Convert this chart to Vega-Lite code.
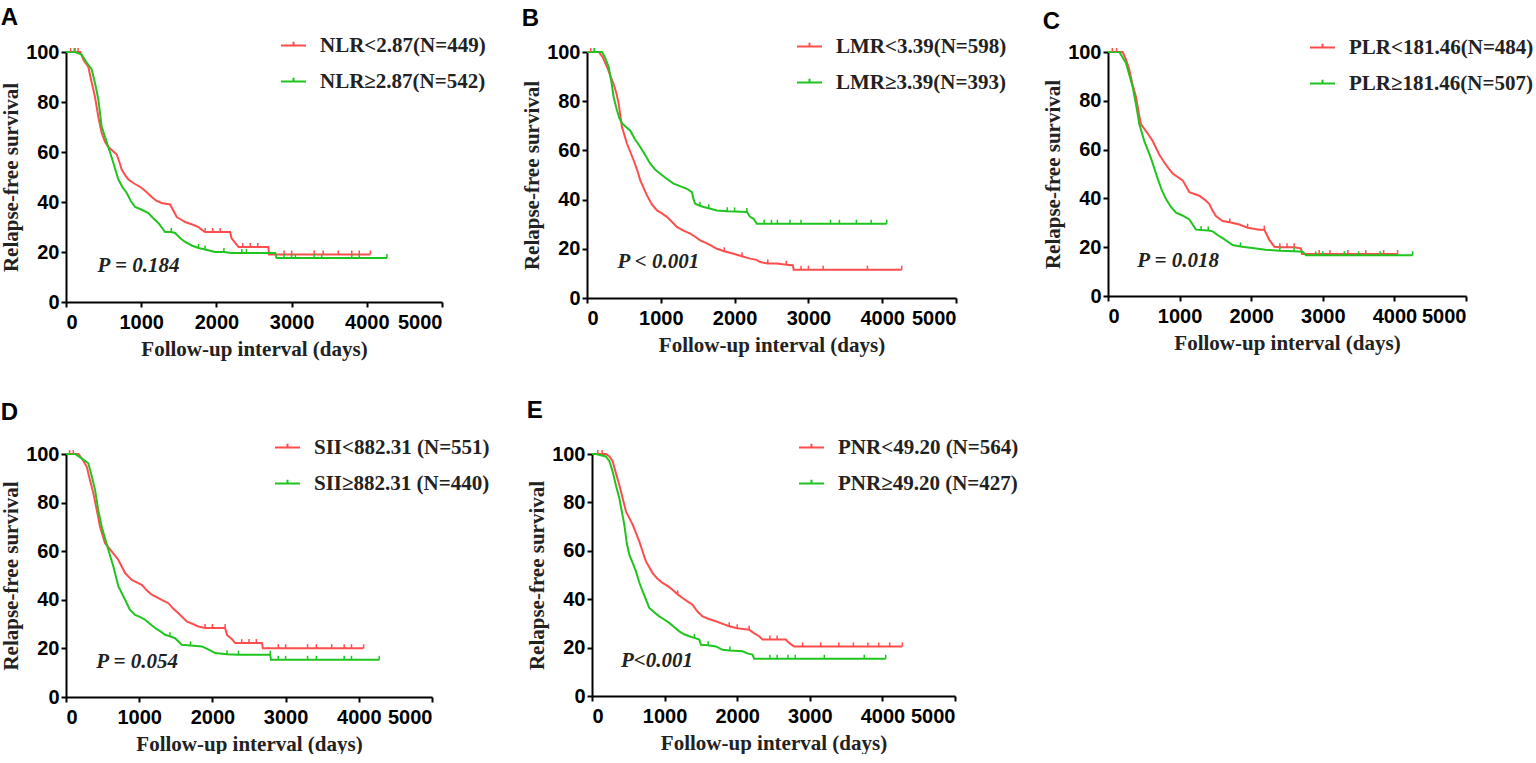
{
  "$schema": "https://vega.github.io/schema/vega-lite/v6.json",
  "padding": {"left": 0, "top": 6, "right": 0, "bottom": 0},
  "background": "white",
  "datasets": {
    "km": [
      {"p":"A","g":"NLR<2.87(N=449)","t":0,"s":100,"c":0},
      {"p":"A","g":"NLR<2.87(N=449)","t":60,"s":100,"c":1},
      {"p":"A","g":"NLR<2.87(N=449)","t":110,"s":100,"c":1},
      {"p":"A","g":"NLR<2.87(N=449)","t":160,"s":100,"c":1},
      {"p":"A","g":"NLR<2.87(N=449)","t":190,"s":100,"c":0},
      {"p":"A","g":"NLR<2.87(N=449)","t":230,"s":97,"c":0},
      {"p":"A","g":"NLR<2.87(N=449)","t":297,"s":94,"c":0},
      {"p":"A","g":"NLR<2.87(N=449)","t":340,"s":88,"c":0},
      {"p":"A","g":"NLR<2.87(N=449)","t":386,"s":82,"c":0},
      {"p":"A","g":"NLR<2.87(N=449)","t":430,"s":74,"c":0},
      {"p":"A","g":"NLR<2.87(N=449)","t":475,"s":67.6,"c":0},
      {"p":"A","g":"NLR<2.87(N=449)","t":520,"s":64,"c":0},
      {"p":"A","g":"NLR<2.87(N=449)","t":563,"s":62,"c":0},
      {"p":"A","g":"NLR<2.87(N=449)","t":620,"s":60.5,"c":0},
      {"p":"A","g":"NLR<2.87(N=449)","t":674,"s":59,"c":0},
      {"p":"A","g":"NLR<2.87(N=449)","t":710,"s":56,"c":0},
      {"p":"A","g":"NLR<2.87(N=449)","t":741,"s":53,"c":0},
      {"p":"A","g":"NLR<2.87(N=449)","t":790,"s":50.5,"c":0},
      {"p":"A","g":"NLR<2.87(N=449)","t":830,"s":49,"c":0},
      {"p":"A","g":"NLR<2.87(N=449)","t":900,"s":47.5,"c":0},
      {"p":"A","g":"NLR<2.87(N=449)","t":960,"s":46.5,"c":0},
      {"p":"A","g":"NLR<2.87(N=449)","t":1007,"s":45.6,"c":0},
      {"p":"A","g":"NLR<2.87(N=449)","t":1070,"s":44,"c":0},
      {"p":"A","g":"NLR<2.87(N=449)","t":1140,"s":42,"c":0},
      {"p":"A","g":"NLR<2.87(N=449)","t":1200,"s":40.5,"c":0},
      {"p":"A","g":"NLR<2.87(N=449)","t":1273,"s":39.6,"c":0},
      {"p":"A","g":"NLR<2.87(N=449)","t":1384,"s":39,"c":0},
      {"p":"A","g":"NLR<2.87(N=449)","t":1420,"s":37,"c":0},
      {"p":"A","g":"NLR<2.87(N=449)","t":1473,"s":34,"c":0},
      {"p":"A","g":"NLR<2.87(N=449)","t":1530,"s":33,"c":0},
      {"p":"A","g":"NLR<2.87(N=449)","t":1584,"s":32,"c":0},
      {"p":"A","g":"NLR<2.87(N=449)","t":1680,"s":31,"c":0},
      {"p":"A","g":"NLR<2.87(N=449)","t":1762,"s":30,"c":0},
      {"p":"A","g":"NLR<2.87(N=449)","t":1800,"s":29,"c":0},
      {"p":"A","g":"NLR<2.87(N=449)","t":1850,"s":28,"c":1},
      {"p":"A","g":"NLR<2.87(N=449)","t":1950,"s":28,"c":1},
      {"p":"A","g":"NLR<2.87(N=449)","t":2050,"s":28,"c":1},
      {"p":"A","g":"NLR<2.87(N=449)","t":2183,"s":28,"c":0},
      {"p":"A","g":"NLR<2.87(N=449)","t":2200,"s":25.6,"c":0},
      {"p":"A","g":"NLR<2.87(N=449)","t":2294,"s":22,"c":0},
      {"p":"A","g":"NLR<2.87(N=449)","t":2350,"s":22,"c":1},
      {"p":"A","g":"NLR<2.87(N=449)","t":2450,"s":22,"c":1},
      {"p":"A","g":"NLR<2.87(N=449)","t":2550,"s":22,"c":1},
      {"p":"A","g":"NLR<2.87(N=449)","t":2690,"s":22,"c":0},
      {"p":"A","g":"NLR<2.87(N=449)","t":2700,"s":19,"c":0},
      {"p":"A","g":"NLR<2.87(N=449)","t":2900,"s":19,"c":1},
      {"p":"A","g":"NLR<2.87(N=449)","t":3000,"s":19,"c":1},
      {"p":"A","g":"NLR<2.87(N=449)","t":3300,"s":19,"c":1},
      {"p":"A","g":"NLR<2.87(N=449)","t":3420,"s":19,"c":1},
      {"p":"A","g":"NLR<2.87(N=449)","t":3620,"s":19,"c":1},
      {"p":"A","g":"NLR<2.87(N=449)","t":3800,"s":19,"c":1},
      {"p":"A","g":"NLR<2.87(N=449)","t":3900,"s":19,"c":1},
      {"p":"A","g":"NLR<2.87(N=449)","t":4047,"s":19,"c":1},

      {"p":"A","g":"NLR≥2.87(N=542)","t":0,"s":100,"c":0},
      {"p":"A","g":"NLR≥2.87(N=542)","t":75,"s":100,"c":0},
      {"p":"A","g":"NLR≥2.87(N=542)","t":120,"s":100,"c":1},
      {"p":"A","g":"NLR≥2.87(N=542)","t":208,"s":99,"c":0},
      {"p":"A","g":"NLR≥2.87(N=542)","t":270,"s":96,"c":0},
      {"p":"A","g":"NLR≥2.87(N=542)","t":342,"s":93,"c":0},
      {"p":"A","g":"NLR≥2.87(N=542)","t":390,"s":87,"c":0},
      {"p":"A","g":"NLR≥2.87(N=542)","t":430,"s":81,"c":0},
      {"p":"A","g":"NLR≥2.87(N=542)","t":475,"s":70,"c":0},
      {"p":"A","g":"NLR≥2.87(N=542)","t":520,"s":66,"c":0},
      {"p":"A","g":"NLR≥2.87(N=542)","t":563,"s":62,"c":0},
      {"p":"A","g":"NLR≥2.87(N=542)","t":600,"s":58.5,"c":0},
      {"p":"A","g":"NLR≥2.87(N=542)","t":630,"s":55.6,"c":0},
      {"p":"A","g":"NLR≥2.87(N=542)","t":697,"s":49,"c":0},
      {"p":"A","g":"NLR≥2.87(N=542)","t":750,"s":46,"c":0},
      {"p":"A","g":"NLR≥2.87(N=542)","t":808,"s":43.6,"c":0},
      {"p":"A","g":"NLR≥2.87(N=542)","t":860,"s":40.5,"c":0},
      {"p":"A","g":"NLR≥2.87(N=542)","t":918,"s":38,"c":0},
      {"p":"A","g":"NLR≥2.87(N=542)","t":1000,"s":37,"c":0},
      {"p":"A","g":"NLR≥2.87(N=542)","t":1096,"s":35.6,"c":0},
      {"p":"A","g":"NLR≥2.87(N=542)","t":1160,"s":33.5,"c":0},
      {"p":"A","g":"NLR≥2.87(N=542)","t":1229,"s":31.6,"c":0},
      {"p":"A","g":"NLR≥2.87(N=542)","t":1280,"s":29.5,"c":0},
      {"p":"A","g":"NLR≥2.87(N=542)","t":1318,"s":28,"c":0},
      {"p":"A","g":"NLR≥2.87(N=542)","t":1400,"s":28,"c":1},
      {"p":"A","g":"NLR≥2.87(N=542)","t":1451,"s":27.6,"c":0},
      {"p":"A","g":"NLR≥2.87(N=542)","t":1520,"s":25.5,"c":0},
      {"p":"A","g":"NLR≥2.87(N=542)","t":1584,"s":24,"c":0},
      {"p":"A","g":"NLR≥2.87(N=542)","t":1680,"s":22.5,"c":0},
      {"p":"A","g":"NLR≥2.87(N=542)","t":1762,"s":21.6,"c":1},
      {"p":"A","g":"NLR≥2.87(N=542)","t":1850,"s":21,"c":1},
      {"p":"A","g":"NLR≥2.87(N=542)","t":1983,"s":20,"c":0},
      {"p":"A","g":"NLR≥2.87(N=542)","t":2100,"s":20,"c":1},
      {"p":"A","g":"NLR≥2.87(N=542)","t":2200,"s":19.6,"c":0},
      {"p":"A","g":"NLR≥2.87(N=542)","t":2338,"s":19.6,"c":1},
      {"p":"A","g":"NLR≥2.87(N=542)","t":2400,"s":19.6,"c":1},
      {"p":"A","g":"NLR≥2.87(N=542)","t":2782,"s":19.6,"c":0},
      {"p":"A","g":"NLR≥2.87(N=542)","t":2800,"s":17.6,"c":0},
      {"p":"A","g":"NLR≥2.87(N=542)","t":2900,"s":17.6,"c":1},
      {"p":"A","g":"NLR≥2.87(N=542)","t":3000,"s":17.6,"c":1},
      {"p":"A","g":"NLR≥2.87(N=542)","t":3050,"s":17.6,"c":1},
      {"p":"A","g":"NLR≥2.87(N=542)","t":3300,"s":17.6,"c":1},
      {"p":"A","g":"NLR≥2.87(N=542)","t":3400,"s":17.6,"c":1},
      {"p":"A","g":"NLR≥2.87(N=542)","t":3800,"s":17.6,"c":1},
      {"p":"A","g":"NLR≥2.87(N=542)","t":3900,"s":17.6,"c":1},
      {"p":"A","g":"NLR≥2.87(N=542)","t":4268,"s":17.6,"c":1},

      {"p":"B","g":"LMR<3.39(N=598)","t":0,"s":100,"c":0},
      {"p":"B","g":"LMR<3.39(N=598)","t":50,"s":100,"c":1},
      {"p":"B","g":"LMR<3.39(N=598)","t":100,"s":100,"c":1},
      {"p":"B","g":"LMR<3.39(N=598)","t":158,"s":100,"c":0},
      {"p":"B","g":"LMR<3.39(N=598)","t":210,"s":98,"c":0},
      {"p":"B","g":"LMR<3.39(N=598)","t":271,"s":94,"c":0},
      {"p":"B","g":"LMR<3.39(N=598)","t":320,"s":90,"c":0},
      {"p":"B","g":"LMR<3.39(N=598)","t":361,"s":87,"c":0},
      {"p":"B","g":"LMR<3.39(N=598)","t":400,"s":83,"c":0},
      {"p":"B","g":"LMR<3.39(N=598)","t":429,"s":79,"c":0},
      {"p":"B","g":"LMR<3.39(N=598)","t":474,"s":69.5,"c":0},
      {"p":"B","g":"LMR<3.39(N=598)","t":542,"s":62.7,"c":0},
      {"p":"B","g":"LMR<3.39(N=598)","t":632,"s":56,"c":0},
      {"p":"B","g":"LMR<3.39(N=598)","t":680,"s":52,"c":0},
      {"p":"B","g":"LMR<3.39(N=598)","t":722,"s":47.8,"c":0},
      {"p":"B","g":"LMR<3.39(N=598)","t":812,"s":41.7,"c":0},
      {"p":"B","g":"LMR<3.39(N=598)","t":880,"s":38,"c":0},
      {"p":"B","g":"LMR<3.39(N=598)","t":948,"s":35.6,"c":0},
      {"p":"B","g":"LMR<3.39(N=598)","t":1010,"s":34.5,"c":0},
      {"p":"B","g":"LMR<3.39(N=598)","t":1083,"s":33,"c":0},
      {"p":"B","g":"LMR<3.39(N=598)","t":1150,"s":31,"c":0},
      {"p":"B","g":"LMR<3.39(N=598)","t":1218,"s":28.9,"c":0},
      {"p":"B","g":"LMR<3.39(N=598)","t":1300,"s":27.5,"c":0},
      {"p":"B","g":"LMR<3.39(N=598)","t":1399,"s":26.2,"c":0},
      {"p":"B","g":"LMR<3.39(N=598)","t":1460,"s":25,"c":0},
      {"p":"B","g":"LMR<3.39(N=598)","t":1534,"s":23.4,"c":0},
      {"p":"B","g":"LMR<3.39(N=598)","t":1640,"s":22,"c":0},
      {"p":"B","g":"LMR<3.39(N=598)","t":1760,"s":20,"c":0},
      {"p":"B","g":"LMR<3.39(N=598)","t":1860,"s":19,"c":1},
      {"p":"B","g":"LMR<3.39(N=598)","t":1986,"s":18,"c":0},
      {"p":"B","g":"LMR<3.39(N=598)","t":2100,"s":17,"c":1},
      {"p":"B","g":"LMR<3.39(N=598)","t":2211,"s":16,"c":0},
      {"p":"B","g":"LMR<3.39(N=598)","t":2300,"s":15.5,"c":0},
      {"p":"B","g":"LMR<3.39(N=598)","t":2347,"s":14.6,"c":0},
      {"p":"B","g":"LMR<3.39(N=598)","t":2450,"s":14,"c":1},
      {"p":"B","g":"LMR<3.39(N=598)","t":2572,"s":14,"c":0},
      {"p":"B","g":"LMR<3.39(N=598)","t":2700,"s":13.5,"c":1},
      {"p":"B","g":"LMR<3.39(N=598)","t":2789,"s":13.3,"c":0},
      {"p":"B","g":"LMR<3.39(N=598)","t":2800,"s":11.5,"c":0},
      {"p":"B","g":"LMR<3.39(N=598)","t":2900,"s":11.5,"c":1},
      {"p":"B","g":"LMR<3.39(N=598)","t":3000,"s":11.5,"c":1},
      {"p":"B","g":"LMR<3.39(N=598)","t":3200,"s":11.5,"c":1},
      {"p":"B","g":"LMR<3.39(N=598)","t":3800,"s":11.5,"c":1},
      {"p":"B","g":"LMR<3.39(N=598)","t":4265,"s":11.5,"c":1},

      {"p":"B","g":"LMR≥3.39(N=393)","t":0,"s":100,"c":0},
      {"p":"B","g":"LMR≥3.39(N=393)","t":100,"s":100,"c":1},
      {"p":"B","g":"LMR≥3.39(N=393)","t":203,"s":100,"c":0},
      {"p":"B","g":"LMR≥3.39(N=393)","t":240,"s":98,"c":0},
      {"p":"B","g":"LMR≥3.39(N=393)","t":293,"s":94,"c":0},
      {"p":"B","g":"LMR≥3.39(N=393)","t":330,"s":88,"c":0},
      {"p":"B","g":"LMR≥3.39(N=393)","t":361,"s":81.6,"c":0},
      {"p":"B","g":"LMR≥3.39(N=393)","t":406,"s":76.3,"c":0},
      {"p":"B","g":"LMR≥3.39(N=393)","t":440,"s":73,"c":0},
      {"p":"B","g":"LMR≥3.39(N=393)","t":474,"s":71,"c":0},
      {"p":"B","g":"LMR≥3.39(N=393)","t":530,"s":69.5,"c":0},
      {"p":"B","g":"LMR≥3.39(N=393)","t":587,"s":68,"c":0},
      {"p":"B","g":"LMR≥3.39(N=393)","t":650,"s":64.5,"c":0},
      {"p":"B","g":"LMR≥3.39(N=393)","t":722,"s":61.4,"c":0},
      {"p":"B","g":"LMR≥3.39(N=393)","t":790,"s":58,"c":0},
      {"p":"B","g":"LMR≥3.39(N=393)","t":857,"s":54.6,"c":0},
      {"p":"B","g":"LMR≥3.39(N=393)","t":930,"s":52,"c":0},
      {"p":"B","g":"LMR≥3.39(N=393)","t":993,"s":50.5,"c":0},
      {"p":"B","g":"LMR≥3.39(N=393)","t":1080,"s":48.5,"c":0},
      {"p":"B","g":"LMR≥3.39(N=393)","t":1173,"s":46.5,"c":0},
      {"p":"B","g":"LMR≥3.39(N=393)","t":1260,"s":45.5,"c":0},
      {"p":"B","g":"LMR≥3.39(N=393)","t":1354,"s":44.4,"c":0},
      {"p":"B","g":"LMR≥3.39(N=393)","t":1422,"s":43,"c":0},
      {"p":"B","g":"LMR≥3.39(N=393)","t":1445,"s":40,"c":0},
      {"p":"B","g":"LMR≥3.39(N=393)","t":1467,"s":38.3,"c":0},
      {"p":"B","g":"LMR≥3.39(N=393)","t":1530,"s":37.5,"c":1},
      {"p":"B","g":"LMR≥3.39(N=393)","t":1580,"s":37,"c":0},
      {"p":"B","g":"LMR≥3.39(N=393)","t":1650,"s":36.5,"c":1},
      {"p":"B","g":"LMR≥3.39(N=393)","t":1760,"s":35.6,"c":0},
      {"p":"B","g":"LMR≥3.39(N=393)","t":1900,"s":35.3,"c":1},
      {"p":"B","g":"LMR≥3.39(N=393)","t":2000,"s":35.2,"c":1},
      {"p":"B","g":"LMR≥3.39(N=393)","t":2166,"s":35,"c":1},
      {"p":"B","g":"LMR≥3.39(N=393)","t":2210,"s":33,"c":0},
      {"p":"B","g":"LMR≥3.39(N=393)","t":2257,"s":32.2,"c":0},
      {"p":"B","g":"LMR≥3.39(N=393)","t":2302,"s":30.2,"c":0},
      {"p":"B","g":"LMR≥3.39(N=393)","t":2400,"s":30.2,"c":1},
      {"p":"B","g":"LMR≥3.39(N=393)","t":2500,"s":30.2,"c":1},
      {"p":"B","g":"LMR≥3.39(N=393)","t":2580,"s":30.2,"c":1},
      {"p":"B","g":"LMR≥3.39(N=393)","t":2750,"s":30.2,"c":1},
      {"p":"B","g":"LMR≥3.39(N=393)","t":2900,"s":30.2,"c":1},
      {"p":"B","g":"LMR≥3.39(N=393)","t":3300,"s":30.2,"c":1},
      {"p":"B","g":"LMR≥3.39(N=393)","t":3420,"s":30.2,"c":1},
      {"p":"B","g":"LMR≥3.39(N=393)","t":3650,"s":30.2,"c":1},
      {"p":"B","g":"LMR≥3.39(N=393)","t":3850,"s":30.2,"c":1},
      {"p":"B","g":"LMR≥3.39(N=393)","t":4062,"s":30.2,"c":1},

      {"p":"C","g":"PLR<181.46(N=484)","t":0,"s":100,"c":0},
      {"p":"C","g":"PLR<181.46(N=484)","t":60,"s":100,"c":1},
      {"p":"C","g":"PLR<181.46(N=484)","t":120,"s":100,"c":1},
      {"p":"C","g":"PLR<181.46(N=484)","t":205,"s":100,"c":0},
      {"p":"C","g":"PLR<181.46(N=484)","t":250,"s":97,"c":0},
      {"p":"C","g":"PLR<181.46(N=484)","t":298,"s":92.7,"c":0},
      {"p":"C","g":"PLR<181.46(N=484)","t":340,"s":87,"c":0},
      {"p":"C","g":"PLR<181.46(N=484)","t":391,"s":81.6,"c":0},
      {"p":"C","g":"PLR<181.46(N=484)","t":430,"s":75,"c":0},
      {"p":"C","g":"PLR<181.46(N=484)","t":461,"s":70.4,"c":0},
      {"p":"C","g":"PLR<181.46(N=484)","t":531,"s":67.6,"c":0},
      {"p":"C","g":"PLR<181.46(N=484)","t":624,"s":63.5,"c":0},
      {"p":"C","g":"PLR<181.46(N=484)","t":717,"s":57.9,"c":0},
      {"p":"C","g":"PLR<181.46(N=484)","t":810,"s":53.7,"c":0},
      {"p":"C","g":"PLR<181.46(N=484)","t":903,"s":50.2,"c":0},
      {"p":"C","g":"PLR<181.46(N=484)","t":1043,"s":47.4,"c":0},
      {"p":"C","g":"PLR<181.46(N=484)","t":1090,"s":45,"c":0},
      {"p":"C","g":"PLR<181.46(N=484)","t":1136,"s":42.5,"c":0},
      {"p":"C","g":"PLR<181.46(N=484)","t":1275,"s":41.1,"c":0},
      {"p":"C","g":"PLR<181.46(N=484)","t":1350,"s":39.5,"c":0},
      {"p":"C","g":"PLR<181.46(N=484)","t":1415,"s":37.7,"c":0},
      {"p":"C","g":"PLR<181.46(N=484)","t":1460,"s":35,"c":0},
      {"p":"C","g":"PLR<181.46(N=484)","t":1508,"s":32.8,"c":0},
      {"p":"C","g":"PLR<181.46(N=484)","t":1601,"s":30.7,"c":0},
      {"p":"C","g":"PLR<181.46(N=484)","t":1700,"s":30.2,"c":1},
      {"p":"C","g":"PLR<181.46(N=484)","t":1834,"s":29.3,"c":0},
      {"p":"C","g":"PLR<181.46(N=484)","t":1950,"s":28,"c":1},
      {"p":"C","g":"PLR<181.46(N=484)","t":2113,"s":27.2,"c":0},
      {"p":"C","g":"PLR<181.46(N=484)","t":2183,"s":27.2,"c":1},
      {"p":"C","g":"PLR<181.46(N=484)","t":2220,"s":25,"c":0},
      {"p":"C","g":"PLR<181.46(N=484)","t":2253,"s":23,"c":0},
      {"p":"C","g":"PLR<181.46(N=484)","t":2323,"s":20.2,"c":0},
      {"p":"C","g":"PLR<181.46(N=484)","t":2400,"s":20,"c":1},
      {"p":"C","g":"PLR<181.46(N=484)","t":2500,"s":20,"c":1},
      {"p":"C","g":"PLR<181.46(N=484)","t":2600,"s":20,"c":1},
      {"p":"C","g":"PLR<181.46(N=484)","t":2695,"s":19.5,"c":0},
      {"p":"C","g":"PLR<181.46(N=484)","t":2710,"s":17.2,"c":0},
      {"p":"C","g":"PLR<181.46(N=484)","t":2950,"s":17.2,"c":1},
      {"p":"C","g":"PLR<181.46(N=484)","t":3100,"s":17.2,"c":1},
      {"p":"C","g":"PLR<181.46(N=484)","t":3350,"s":17.2,"c":1},
      {"p":"C","g":"PLR<181.46(N=484)","t":3600,"s":17.2,"c":1},
      {"p":"C","g":"PLR<181.46(N=484)","t":3850,"s":17.2,"c":1},
      {"p":"C","g":"PLR<181.46(N=484)","t":4045,"s":17.2,"c":1},

      {"p":"C","g":"PLR≥181.46(N=507)","t":0,"s":100,"c":0},
      {"p":"C","g":"PLR≥181.46(N=507)","t":158,"s":100,"c":0},
      {"p":"C","g":"PLR≥181.46(N=507)","t":251,"s":95.5,"c":0},
      {"p":"C","g":"PLR≥181.46(N=507)","t":344,"s":85.8,"c":0},
      {"p":"C","g":"PLR≥181.46(N=507)","t":400,"s":77,"c":0},
      {"p":"C","g":"PLR≥181.46(N=507)","t":438,"s":70.4,"c":0},
      {"p":"C","g":"PLR≥181.46(N=507)","t":507,"s":63.5,"c":0},
      {"p":"C","g":"PLR≥181.46(N=507)","t":600,"s":56.5,"c":0},
      {"p":"C","g":"PLR≥181.46(N=507)","t":694,"s":48.1,"c":0},
      {"p":"C","g":"PLR≥181.46(N=507)","t":750,"s":43.5,"c":0},
      {"p":"C","g":"PLR≥181.46(N=507)","t":810,"s":39.7,"c":0},
      {"p":"C","g":"PLR≥181.46(N=507)","t":880,"s":36.5,"c":0},
      {"p":"C","g":"PLR≥181.46(N=507)","t":950,"s":34.2,"c":0},
      {"p":"C","g":"PLR≥181.46(N=507)","t":1040,"s":33,"c":0},
      {"p":"C","g":"PLR≥181.46(N=507)","t":1136,"s":31.4,"c":0},
      {"p":"C","g":"PLR≥181.46(N=507)","t":1229,"s":27.2,"c":0},
      {"p":"C","g":"PLR≥181.46(N=507)","t":1300,"s":27,"c":1},
      {"p":"C","g":"PLR≥181.46(N=507)","t":1400,"s":26.8,"c":1},
      {"p":"C","g":"PLR≥181.46(N=507)","t":1462,"s":26.5,"c":0},
      {"p":"C","g":"PLR≥181.46(N=507)","t":1530,"s":25,"c":0},
      {"p":"C","g":"PLR≥181.46(N=507)","t":1601,"s":23.7,"c":0},
      {"p":"C","g":"PLR≥181.46(N=507)","t":1741,"s":20.9,"c":0},
      {"p":"C","g":"PLR≥181.46(N=507)","t":1850,"s":20.3,"c":1},
      {"p":"C","g":"PLR≥181.46(N=507)","t":2067,"s":19.5,"c":0},
      {"p":"C","g":"PLR≥181.46(N=507)","t":2200,"s":19,"c":0},
      {"p":"C","g":"PLR≥181.46(N=507)","t":2400,"s":18.5,"c":1},
      {"p":"C","g":"PLR≥181.46(N=507)","t":2600,"s":18.3,"c":1},
      {"p":"C","g":"PLR≥181.46(N=507)","t":2719,"s":18.1,"c":0},
      {"p":"C","g":"PLR≥181.46(N=507)","t":2765,"s":16.7,"c":0},
      {"p":"C","g":"PLR≥181.46(N=507)","t":2900,"s":16.7,"c":1},
      {"p":"C","g":"PLR≥181.46(N=507)","t":3000,"s":16.7,"c":1},
      {"p":"C","g":"PLR≥181.46(N=507)","t":3300,"s":16.7,"c":1},
      {"p":"C","g":"PLR≥181.46(N=507)","t":3500,"s":16.7,"c":1},
      {"p":"C","g":"PLR≥181.46(N=507)","t":3800,"s":16.7,"c":1},
      {"p":"C","g":"PLR≥181.46(N=507)","t":4255,"s":16.7,"c":1},

      {"p":"D","g":"SII<882.31 (N=551)","t":0,"s":100,"c":0},
      {"p":"D","g":"SII<882.31 (N=551)","t":50,"s":100,"c":1},
      {"p":"D","g":"SII<882.31 (N=551)","t":100,"s":100,"c":1},
      {"p":"D","g":"SII<882.31 (N=551)","t":169,"s":100,"c":0},
      {"p":"D","g":"SII<882.31 (N=551)","t":220,"s":98,"c":0},
      {"p":"D","g":"SII<882.31 (N=551)","t":283,"s":94.8,"c":0},
      {"p":"D","g":"SII<882.31 (N=551)","t":330,"s":89,"c":0},
      {"p":"D","g":"SII<882.31 (N=551)","t":374,"s":83.8,"c":0},
      {"p":"D","g":"SII<882.31 (N=551)","t":420,"s":77,"c":0},
      {"p":"D","g":"SII<882.31 (N=551)","t":465,"s":70.1,"c":0},
      {"p":"D","g":"SII<882.31 (N=551)","t":533,"s":63.3,"c":0},
      {"p":"D","g":"SII<882.31 (N=551)","t":624,"s":59.9,"c":0},
      {"p":"D","g":"SII<882.31 (N=551)","t":716,"s":56.4,"c":0},
      {"p":"D","g":"SII<882.31 (N=551)","t":807,"s":51,"c":0},
      {"p":"D","g":"SII<882.31 (N=551)","t":898,"s":48.2,"c":0},
      {"p":"D","g":"SII<882.31 (N=551)","t":1035,"s":46.2,"c":0},
      {"p":"D","g":"SII<882.31 (N=551)","t":1100,"s":44,"c":0},
      {"p":"D","g":"SII<882.31 (N=551)","t":1171,"s":42.1,"c":0},
      {"p":"D","g":"SII<882.31 (N=551)","t":1308,"s":40,"c":0},
      {"p":"D","g":"SII<882.31 (N=551)","t":1399,"s":38.6,"c":0},
      {"p":"D","g":"SII<882.31 (N=551)","t":1460,"s":36.5,"c":0},
      {"p":"D","g":"SII<882.31 (N=551)","t":1536,"s":34.5,"c":0},
      {"p":"D","g":"SII<882.31 (N=551)","t":1650,"s":31.1,"c":0},
      {"p":"D","g":"SII<882.31 (N=551)","t":1810,"s":29,"c":0},
      {"p":"D","g":"SII<882.31 (N=551)","t":1900,"s":28.4,"c":1},
      {"p":"D","g":"SII<882.31 (N=551)","t":2000,"s":28.4,"c":1},
      {"p":"D","g":"SII<882.31 (N=551)","t":2174,"s":28.4,"c":1},
      {"p":"D","g":"SII<882.31 (N=551)","t":2200,"s":25.5,"c":0},
      {"p":"D","g":"SII<882.31 (N=551)","t":2260,"s":24,"c":0},
      {"p":"D","g":"SII<882.31 (N=551)","t":2311,"s":22.2,"c":0},
      {"p":"D","g":"SII<882.31 (N=551)","t":2400,"s":22.2,"c":1},
      {"p":"D","g":"SII<882.31 (N=551)","t":2500,"s":22.2,"c":1},
      {"p":"D","g":"SII<882.31 (N=551)","t":2600,"s":22.2,"c":1},
      {"p":"D","g":"SII<882.31 (N=551)","t":2676,"s":22.2,"c":0},
      {"p":"D","g":"SII<882.31 (N=551)","t":2690,"s":20.1,"c":0},
      {"p":"D","g":"SII<882.31 (N=551)","t":2900,"s":20.1,"c":1},
      {"p":"D","g":"SII<882.31 (N=551)","t":3000,"s":20.1,"c":1},
      {"p":"D","g":"SII<882.31 (N=551)","t":3300,"s":20.1,"c":1},
      {"p":"D","g":"SII<882.31 (N=551)","t":3420,"s":20.1,"c":1},
      {"p":"D","g":"SII<882.31 (N=551)","t":3630,"s":20.1,"c":1},
      {"p":"D","g":"SII<882.31 (N=551)","t":3800,"s":20.1,"c":1},
      {"p":"D","g":"SII<882.31 (N=551)","t":3900,"s":20.1,"c":1},
      {"p":"D","g":"SII<882.31 (N=551)","t":4066,"s":20.1,"c":1},

      {"p":"D","g":"SII≥882.31 (N=440)","t":0,"s":100,"c":0},
      {"p":"D","g":"SII≥882.31 (N=440)","t":123,"s":100,"c":0},
      {"p":"D","g":"SII≥882.31 (N=440)","t":200,"s":98.5,"c":0},
      {"p":"D","g":"SII≥882.31 (N=440)","t":305,"s":96.2,"c":0},
      {"p":"D","g":"SII≥882.31 (N=440)","t":350,"s":91,"c":0},
      {"p":"D","g":"SII≥882.31 (N=440)","t":397,"s":85.2,"c":0},
      {"p":"D","g":"SII≥882.31 (N=440)","t":440,"s":77,"c":0},
      {"p":"D","g":"SII≥882.31 (N=440)","t":488,"s":70.1,"c":0},
      {"p":"D","g":"SII≥882.31 (N=440)","t":579,"s":60.5,"c":0},
      {"p":"D","g":"SII≥882.31 (N=440)","t":647,"s":53.7,"c":0},
      {"p":"D","g":"SII≥882.31 (N=440)","t":716,"s":45.5,"c":0},
      {"p":"D","g":"SII≥882.31 (N=440)","t":807,"s":40,"c":0},
      {"p":"D","g":"SII≥882.31 (N=440)","t":870,"s":36,"c":0},
      {"p":"D","g":"SII≥882.31 (N=440)","t":944,"s":33.8,"c":0},
      {"p":"D","g":"SII≥882.31 (N=440)","t":1010,"s":33,"c":0},
      {"p":"D","g":"SII≥882.31 (N=440)","t":1080,"s":31.8,"c":0},
      {"p":"D","g":"SII≥882.31 (N=440)","t":1150,"s":30,"c":0},
      {"p":"D","g":"SII≥882.31 (N=440)","t":1217,"s":28.4,"c":0},
      {"p":"D","g":"SII≥882.31 (N=440)","t":1290,"s":27,"c":0},
      {"p":"D","g":"SII≥882.31 (N=440)","t":1354,"s":25.6,"c":0},
      {"p":"D","g":"SII≥882.31 (N=440)","t":1420,"s":25,"c":1},
      {"p":"D","g":"SII≥882.31 (N=440)","t":1490,"s":24.2,"c":0},
      {"p":"D","g":"SII≥882.31 (N=440)","t":1582,"s":21.5,"c":0},
      {"p":"D","g":"SII≥882.31 (N=440)","t":1700,"s":21.2,"c":1},
      {"p":"D","g":"SII≥882.31 (N=440)","t":1855,"s":20.8,"c":0},
      {"p":"D","g":"SII≥882.31 (N=440)","t":1950,"s":19.5,"c":0},
      {"p":"D","g":"SII≥882.31 (N=440)","t":2037,"s":18.1,"c":0},
      {"p":"D","g":"SII≥882.31 (N=440)","t":2200,"s":17.6,"c":1},
      {"p":"D","g":"SII≥882.31 (N=440)","t":2356,"s":17.4,"c":1},
      {"p":"D","g":"SII≥882.31 (N=440)","t":2600,"s":17.4,"c":0},
      {"p":"D","g":"SII≥882.31 (N=440)","t":2790,"s":17.4,"c":1},
      {"p":"D","g":"SII≥882.31 (N=440)","t":2800,"s":15.3,"c":0},
      {"p":"D","g":"SII≥882.31 (N=440)","t":2900,"s":15.3,"c":1},
      {"p":"D","g":"SII≥882.31 (N=440)","t":3000,"s":15.3,"c":1},
      {"p":"D","g":"SII≥882.31 (N=440)","t":3300,"s":15.3,"c":1},
      {"p":"D","g":"SII≥882.31 (N=440)","t":3420,"s":15.3,"c":1},
      {"p":"D","g":"SII≥882.31 (N=440)","t":3800,"s":15.3,"c":1},
      {"p":"D","g":"SII≥882.31 (N=440)","t":3900,"s":15.3,"c":1},
      {"p":"D","g":"SII≥882.31 (N=440)","t":4280,"s":15.3,"c":1},

      {"p":"E","g":"PNR<49.20 (N=564)","t":0,"s":100,"c":0},
      {"p":"E","g":"PNR<49.20 (N=564)","t":80,"s":100,"c":1},
      {"p":"E","g":"PNR<49.20 (N=564)","t":140,"s":100,"c":1},
      {"p":"E","g":"PNR<49.20 (N=564)","t":193,"s":100,"c":0},
      {"p":"E","g":"PNR<49.20 (N=564)","t":240,"s":99,"c":0},
      {"p":"E","g":"PNR<49.20 (N=564)","t":284,"s":97,"c":0},
      {"p":"E","g":"PNR<49.20 (N=564)","t":330,"s":92,"c":0},
      {"p":"E","g":"PNR<49.20 (N=564)","t":376,"s":87.3,"c":0},
      {"p":"E","g":"PNR<49.20 (N=564)","t":420,"s":82,"c":0},
      {"p":"E","g":"PNR<49.20 (N=564)","t":468,"s":76.3,"c":0},
      {"p":"E","g":"PNR<49.20 (N=564)","t":560,"s":70.8,"c":0},
      {"p":"E","g":"PNR<49.20 (N=564)","t":651,"s":63.9,"c":0},
      {"p":"E","g":"PNR<49.20 (N=564)","t":743,"s":55.6,"c":0},
      {"p":"E","g":"PNR<49.20 (N=564)","t":835,"s":50.8,"c":0},
      {"p":"E","g":"PNR<49.20 (N=564)","t":900,"s":48.5,"c":0},
      {"p":"E","g":"PNR<49.20 (N=564)","t":972,"s":46.7,"c":0},
      {"p":"E","g":"PNR<49.20 (N=564)","t":1040,"s":45.5,"c":0},
      {"p":"E","g":"PNR<49.20 (N=564)","t":1110,"s":43.9,"c":0},
      {"p":"E","g":"PNR<49.20 (N=564)","t":1180,"s":42,"c":1},
      {"p":"E","g":"PNR<49.20 (N=564)","t":1248,"s":40.5,"c":0},
      {"p":"E","g":"PNR<49.20 (N=564)","t":1320,"s":39,"c":0},
      {"p":"E","g":"PNR<49.20 (N=564)","t":1385,"s":37.7,"c":0},
      {"p":"E","g":"PNR<49.20 (N=564)","t":1450,"s":35,"c":0},
      {"p":"E","g":"PNR<49.20 (N=564)","t":1523,"s":32.9,"c":0},
      {"p":"E","g":"PNR<49.20 (N=564)","t":1610,"s":31.8,"c":0},
      {"p":"E","g":"PNR<49.20 (N=564)","t":1706,"s":30.9,"c":0},
      {"p":"E","g":"PNR<49.20 (N=564)","t":1800,"s":29.8,"c":0},
      {"p":"E","g":"PNR<49.20 (N=564)","t":1890,"s":28.8,"c":1},
      {"p":"E","g":"PNR<49.20 (N=564)","t":2000,"s":28,"c":1},
      {"p":"E","g":"PNR<49.20 (N=564)","t":2165,"s":27.4,"c":1},
      {"p":"E","g":"PNR<49.20 (N=564)","t":2230,"s":26,"c":0},
      {"p":"E","g":"PNR<49.20 (N=564)","t":2303,"s":24.7,"c":0},
      {"p":"E","g":"PNR<49.20 (N=564)","t":2349,"s":23.3,"c":0},
      {"p":"E","g":"PNR<49.20 (N=564)","t":2450,"s":23.3,"c":1},
      {"p":"E","g":"PNR<49.20 (N=564)","t":2550,"s":23.3,"c":1},
      {"p":"E","g":"PNR<49.20 (N=564)","t":2670,"s":23.3,"c":0},
      {"p":"E","g":"PNR<49.20 (N=564)","t":2716,"s":21.9,"c":0},
      {"p":"E","g":"PNR<49.20 (N=564)","t":2784,"s":20.5,"c":0},
      {"p":"E","g":"PNR<49.20 (N=564)","t":2900,"s":20.5,"c":1},
      {"p":"E","g":"PNR<49.20 (N=564)","t":3150,"s":20.5,"c":1},
      {"p":"E","g":"PNR<49.20 (N=564)","t":3400,"s":20.5,"c":1},
      {"p":"E","g":"PNR<49.20 (N=564)","t":3600,"s":20.5,"c":1},
      {"p":"E","g":"PNR<49.20 (N=564)","t":3800,"s":20.5,"c":1},
      {"p":"E","g":"PNR<49.20 (N=564)","t":3950,"s":20.5,"c":1},
      {"p":"E","g":"PNR<49.20 (N=564)","t":4100,"s":20.5,"c":1},
      {"p":"E","g":"PNR<49.20 (N=564)","t":4275,"s":20.5,"c":1},

      {"p":"E","g":"PNR≥49.20 (N=427)","t":0,"s":100,"c":0},
      {"p":"E","g":"PNR≥49.20 (N=427)","t":55,"s":100,"c":0},
      {"p":"E","g":"PNR≥49.20 (N=427)","t":190,"s":99,"c":0},
      {"p":"E","g":"PNR≥49.20 (N=427)","t":240,"s":97,"c":0},
      {"p":"E","g":"PNR≥49.20 (N=427)","t":284,"s":92.8,"c":0},
      {"p":"E","g":"PNR≥49.20 (N=427)","t":330,"s":87,"c":0},
      {"p":"E","g":"PNR≥49.20 (N=427)","t":376,"s":81.8,"c":0},
      {"p":"E","g":"PNR≥49.20 (N=427)","t":445,"s":70.8,"c":0},
      {"p":"E","g":"PNR≥49.20 (N=427)","t":480,"s":63,"c":0},
      {"p":"E","g":"PNR≥49.20 (N=427)","t":514,"s":58.4,"c":0},
      {"p":"E","g":"PNR≥49.20 (N=427)","t":560,"s":55,"c":0},
      {"p":"E","g":"PNR≥49.20 (N=427)","t":606,"s":51.5,"c":0},
      {"p":"E","g":"PNR≥49.20 (N=427)","t":650,"s":47,"c":0},
      {"p":"E","g":"PNR≥49.20 (N=427)","t":697,"s":43.3,"c":0},
      {"p":"E","g":"PNR≥49.20 (N=427)","t":789,"s":36.4,"c":0},
      {"p":"E","g":"PNR≥49.20 (N=427)","t":860,"s":34.5,"c":0},
      {"p":"E","g":"PNR≥49.20 (N=427)","t":927,"s":32.9,"c":0},
      {"p":"E","g":"PNR≥49.20 (N=427)","t":1000,"s":31.5,"c":0},
      {"p":"E","g":"PNR≥49.20 (N=427)","t":1064,"s":30.2,"c":0},
      {"p":"E","g":"PNR≥49.20 (N=427)","t":1130,"s":28.5,"c":0},
      {"p":"E","g":"PNR≥49.20 (N=427)","t":1202,"s":26.7,"c":0},
      {"p":"E","g":"PNR≥49.20 (N=427)","t":1270,"s":25.5,"c":0},
      {"p":"E","g":"PNR≥49.20 (N=427)","t":1339,"s":24.7,"c":0},
      {"p":"E","g":"PNR≥49.20 (N=427)","t":1410,"s":24,"c":1},
      {"p":"E","g":"PNR≥49.20 (N=427)","t":1477,"s":23.3,"c":0},
      {"p":"E","g":"PNR≥49.20 (N=427)","t":1500,"s":21.2,"c":0},
      {"p":"E","g":"PNR≥49.20 (N=427)","t":1600,"s":21,"c":1},
      {"p":"E","g":"PNR≥49.20 (N=427)","t":1706,"s":20.5,"c":0},
      {"p":"E","g":"PNR≥49.20 (N=427)","t":1798,"s":19.1,"c":0},
      {"p":"E","g":"PNR≥49.20 (N=427)","t":1900,"s":18.8,"c":1},
      {"p":"E","g":"PNR≥49.20 (N=427)","t":2073,"s":18.5,"c":0},
      {"p":"E","g":"PNR≥49.20 (N=427)","t":2150,"s":17.5,"c":0},
      {"p":"E","g":"PNR≥49.20 (N=427)","t":2211,"s":17.1,"c":0},
      {"p":"E","g":"PNR≥49.20 (N=427)","t":2234,"s":15.4,"c":0},
      {"p":"E","g":"PNR≥49.20 (N=427)","t":2450,"s":15.4,"c":1},
      {"p":"E","g":"PNR≥49.20 (N=427)","t":2550,"s":15.4,"c":1},
      {"p":"E","g":"PNR≥49.20 (N=427)","t":2700,"s":15.4,"c":1},
      {"p":"E","g":"PNR≥49.20 (N=427)","t":2800,"s":15.4,"c":1},
      {"p":"E","g":"PNR≥49.20 (N=427)","t":3200,"s":15.4,"c":1},
      {"p":"E","g":"PNR≥49.20 (N=427)","t":3750,"s":15.4,"c":1},
      {"p":"E","g":"PNR≥49.20 (N=427)","t":4046,"s":15.4,"c":1}
    ]
  },
  "data": {"name": "km"},
  "spacing": 40,
  "resolve": {"scale": {"color": "independent"}, "legend": {"color": "independent"}},
  "vconcat": [
    {
      "spacing": 35,
      "resolve": {"scale": {"color": "independent"}, "legend": {"color": "independent"}},
      "hconcat": [
        {
          "width": 376, "height": 250,
          "title": {"text": "A", "offset": 2},
          "layer": [
            {
              "encoding": {
                "x": {"field": "t", "type": "quantitative", "scale": {"domain": [0, 5000], "nice": false}, "axis": {"values": [0, 1000, 2000, 3000, 4000, 5000], "format": "d", "title": "Follow-up interval (days)"}},
                "y": {"field": "s", "type": "quantitative", "scale": {"domain": [0, 100], "nice": false}, "axis": {"values": [0, 20, 40, 60, 80, 100], "title": "Relapse-free survival"}},
                "color": {"field": "g", "type": "nominal", "scale": {"domain": ["NLR<2.87(N=449)", "NLR≥2.87(N=542)"], "range": ["#ff4d4d", "#1fc41f"]}, "legend": {"legendX": 214, "legendY": -20}}
              },
              "layer": [
                {"transform": [{"filter": "datum.p == 'A'"}], "mark": {"type": "line", "strokeWidth": 2}},
                {"transform": [{"filter": "datum.p == 'A' && datum.c == 1"}], "mark": {"type": "point", "shape": "M0,0L0,-1", "size": 64, "strokeWidth": 1.5, "filled": false, "opacity": 1}}
              ]
            },
            {"transform": [{"filter": "datum.p == 'A'"}, {"aggregate": [{"op": "count", "as": "n"}]}], "mark": {"type": "text", "font": "Liberation Serif", "fontStyle": "italic", "fontWeight": "bold", "fontSize": 21, "color": "#222"}, "encoding": {"x": {"datum": 964}, "y": {"datum": 14.5}, "text": {"value": "P = 0.184"}}}
          ]
        },
        {
          "width": 369, "height": 246,
          "title": {"text": "B", "offset": 2},
          "layer": [
            {
              "encoding": {
                "x": {"field": "t", "type": "quantitative", "scale": {"domain": [0, 5000], "nice": false}, "axis": {"values": [0, 1000, 2000, 3000, 4000, 5000], "format": "d", "title": "Follow-up interval (days)"}},
                "y": {"field": "s", "type": "quantitative", "scale": {"domain": [0, 100], "nice": false}, "axis": {"values": [0, 20, 40, 60, 80, 100], "title": "Relapse-free survival"}},
                "color": {"field": "g", "type": "nominal", "scale": {"domain": ["LMR<3.39(N=598)", "LMR≥3.39(N=393)"], "range": ["#ff4d4d", "#1fc41f"]}, "legend": {"legendX": 209, "legendY": -19}}
              },
              "layer": [
                {"transform": [{"filter": "datum.p == 'B'"}], "mark": {"type": "line", "strokeWidth": 2}},
                {"transform": [{"filter": "datum.p == 'B' && datum.c == 1"}], "mark": {"type": "point", "shape": "M0,0L0,-1", "size": 64, "strokeWidth": 1.5, "filled": false, "opacity": 1}}
              ]
            },
            {"transform": [{"filter": "datum.p == 'B'"}, {"aggregate": [{"op": "count", "as": "n"}]}], "mark": {"type": "text", "font": "Liberation Serif", "fontStyle": "italic", "fontWeight": "bold", "fontSize": 21, "color": "#222"}, "encoding": {"x": {"datum": 966}, "y": {"datum": 14.5}, "text": {"value": "P < 0.001"}}}
          ]
        },
        {
          "width": 358, "height": 244,
          "title": {"text": "C", "offset": 0},
          "layer": [
            {
              "encoding": {
                "x": {"field": "t", "type": "quantitative", "scale": {"domain": [0, 5000], "nice": false}, "axis": {"values": [0, 1000, 2000, 3000, 4000, 5000], "format": "d", "title": "Follow-up interval (days)"}},
                "y": {"field": "s", "type": "quantitative", "scale": {"domain": [0, 100], "nice": false}, "axis": {"values": [0, 20, 40, 60, 80, 100], "title": "Relapse-free survival"}},
                "color": {"field": "g", "type": "nominal", "scale": {"domain": ["PLR<181.46(N=484)", "PLR≥181.46(N=507)"], "range": ["#ff4d4d", "#1fc41f"]}, "legend": {"legendX": 201, "legendY": -18}}
              },
              "layer": [
                {"transform": [{"filter": "datum.p == 'C'"}], "mark": {"type": "line", "strokeWidth": 2}},
                {"transform": [{"filter": "datum.p == 'C' && datum.c == 1"}], "mark": {"type": "point", "shape": "M0,0L0,-1", "size": 64, "strokeWidth": 1.5, "filled": false, "opacity": 1}}
              ]
            },
            {"transform": [{"filter": "datum.p == 'C'"}, {"aggregate": [{"op": "count", "as": "n"}]}], "mark": {"type": "text", "font": "Liberation Serif", "fontStyle": "italic", "fontWeight": "bold", "fontSize": 21, "color": "#222"}, "encoding": {"x": {"datum": 978}, "y": {"datum": 14.5}, "text": {"value": "P = 0.018"}}}
          ]
        }
      ]
    },
    {
      "spacing": 36,
      "resolve": {"scale": {"color": "independent"}, "legend": {"color": "independent"}},
      "hconcat": [
        {
          "width": 366, "height": 243,
          "title": {"text": "D", "offset": 9},
          "layer": [
            {
              "encoding": {
                "x": {"field": "t", "type": "quantitative", "scale": {"domain": [0, 5000], "nice": false}, "axis": {"values": [0, 1000, 2000, 3000, 4000, 5000], "format": "d", "title": "Follow-up interval (days)"}},
                "y": {"field": "s", "type": "quantitative", "scale": {"domain": [0, 100], "nice": false}, "axis": {"values": [0, 20, 40, 60, 80, 100], "title": "Relapse-free survival"}},
                "color": {"field": "g", "type": "nominal", "scale": {"domain": ["SII<882.31 (N=551)", "SII≥882.31 (N=440)"], "range": ["#ff4d4d", "#1fc41f"]}, "legend": {"legendX": 208, "legendY": -20}}
              },
              "layer": [
                {"transform": [{"filter": "datum.p == 'D'"}], "mark": {"type": "line", "strokeWidth": 2}},
                {"transform": [{"filter": "datum.p == 'D' && datum.c == 1"}], "mark": {"type": "point", "shape": "M0,0L0,-1", "size": 64, "strokeWidth": 1.5, "filled": false, "opacity": 1}}
              ]
            },
            {"transform": [{"filter": "datum.p == 'D'"}, {"aggregate": [{"op": "count", "as": "n"}]}], "mark": {"type": "text", "font": "Liberation Serif", "fontStyle": "italic", "fontWeight": "bold", "fontSize": 21, "color": "#222"}, "encoding": {"x": {"datum": 971}, "y": {"datum": 14.5}, "text": {"value": "P = 0.054"}}}
          ]
        },
        {
          "width": 363, "height": 242,
          "title": {"text": "E", "offset": 11},
          "layer": [
            {
              "encoding": {
                "x": {"field": "t", "type": "quantitative", "scale": {"domain": [0, 5000], "nice": false}, "axis": {"values": [0, 1000, 2000, 3000, 4000, 5000], "format": "d", "title": "Follow-up interval (days)"}},
                "y": {"field": "s", "type": "quantitative", "scale": {"domain": [0, 100], "nice": false}, "axis": {"values": [0, 20, 40, 60, 80, 100], "title": "Relapse-free survival"}},
                "color": {"field": "g", "type": "nominal", "scale": {"domain": ["PNR<49.20 (N=564)", "PNR≥49.20 (N=427)"], "range": ["#ff4d4d", "#1fc41f"]}, "legend": {"legendX": 206, "legendY": -20}}
              },
              "layer": [
                {"transform": [{"filter": "datum.p == 'E'"}], "mark": {"type": "line", "strokeWidth": 2}},
                {"transform": [{"filter": "datum.p == 'E' && datum.c == 1"}], "mark": {"type": "point", "shape": "M0,0L0,-1", "size": 64, "strokeWidth": 1.5, "filled": false, "opacity": 1}}
              ]
            },
            {"transform": [{"filter": "datum.p == 'E'"}, {"aggregate": [{"op": "count", "as": "n"}]}], "mark": {"type": "text", "font": "Liberation Serif", "fontStyle": "italic", "fontWeight": "bold", "fontSize": 21, "color": "#222"}, "encoding": {"x": {"datum": 894}, "y": {"datum": 14.5}, "text": {"value": "P<0.001"}}}
          ]
        }
      ]
    }
  ],
  "config": {
    "view": {"stroke": null},
    "title": {"anchor": "start", "frame": "bounds", "font": "Liberation Sans", "fontWeight": "bold", "fontSize": 24, "color": "black"},
    "axis": {
      "grid": false,
      "domainColor": "black", "domainWidth": 2,
      "tickColor": "black", "tickWidth": 2, "tickSize": 5,
      "labelFont": "Liberation Sans", "labelFontWeight": "bold", "labelFontSize": 20, "labelColor": "black",
      "titleFont": "Liberation Serif", "titleFontWeight": "bold", "titleFontSize": 21, "titleColor": "#222"
    },
    "axisX": {"labelPadding": 5, "titlePadding": 6},
    "axisY": {"labelPadding": 2, "titlePadding": 4},
    "legend": {
      "orient": "none", "title": null, "padding": 0,
      "symbolType": "M-1,0L1,0M0,0L0,-0.3", "symbolSize": 625, "symbolStrokeWidth": 2,
      "labelFont": "Liberation Serif", "labelFontWeight": "bold", "labelFontSize": 21, "labelColor": "#222", "labelLimit": 0,
      "labelOffset": 13, "rowPadding": 12
    }
  }
}
